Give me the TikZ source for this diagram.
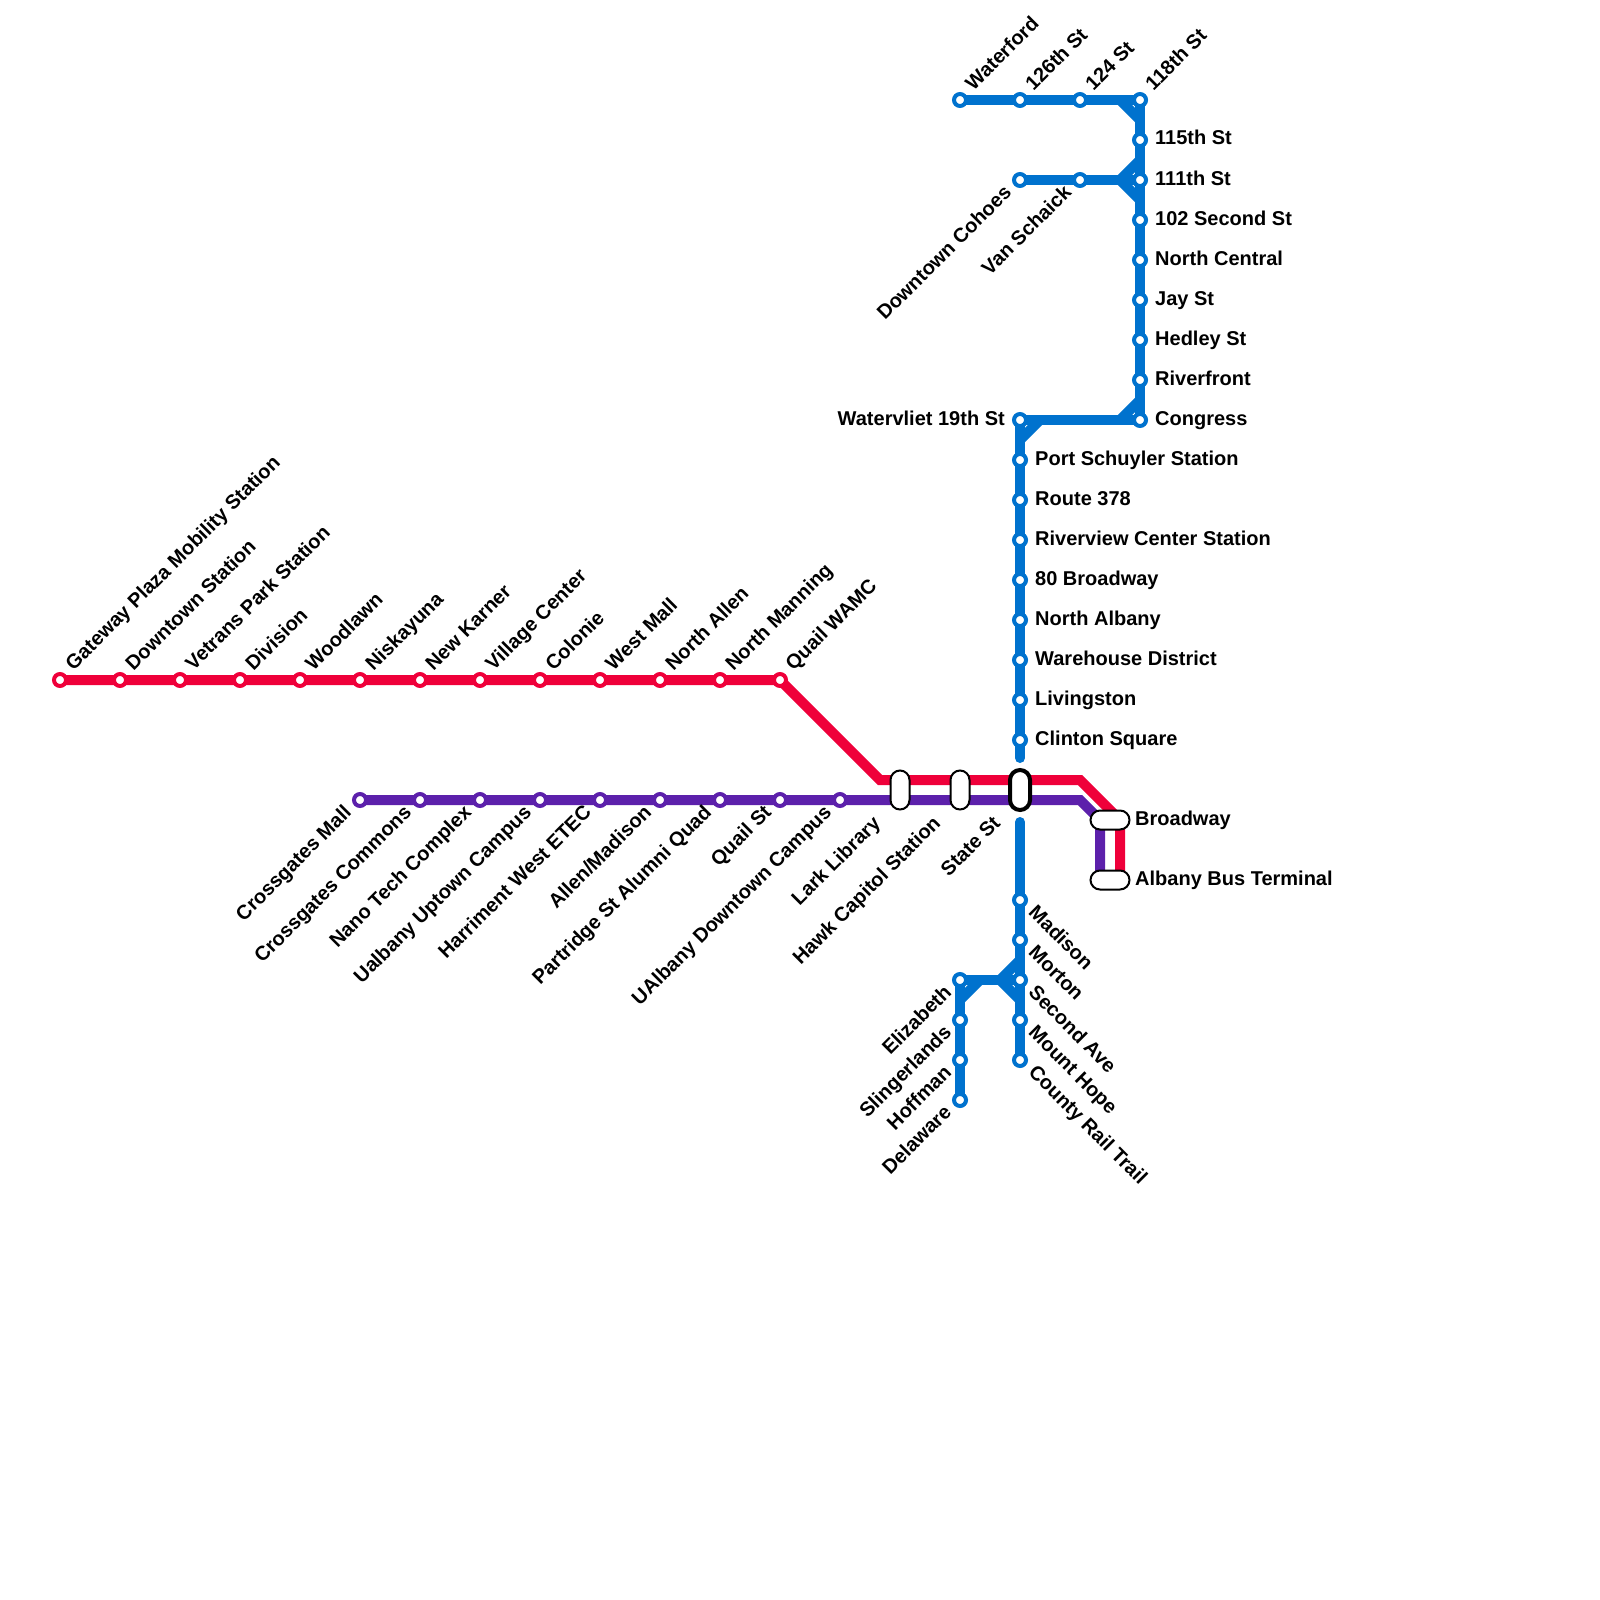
\documentclass[tikz,border=0pt]{standalone}
\usepackage{fontspec}
\setmainfont{Liberation Sans}
\definecolor{lineRed}{RGB}{239, 0, 58}
\definecolor{linePurple}{RGB}{92, 32, 171}
\definecolor{lineBlue}{RGB}{0, 114, 206}
\usetikzlibrary{positioning, backgrounds}

\begin{document}
\begin{tikzpicture}[
    x=1pt, y=-1pt,
    on grid, node distance=40pt and 60pt,
    stn/.style={circle, draw=lineBlue, fill=white, line width=4pt, minimum size=12pt, inner sep=0pt},
    stnred/.style={stn, draw=lineRed},
    stnpurple/.style={stn, draw=linePurple},
    pilltall/.style={rectangle, draw=black, fill=white, rounded corners=9.5pt, line width=2pt, minimum width=19pt, minimum height=39pt, inner sep=0pt},
    pillwide/.style={pilltall, minimum width=39pt, minimum height=19pt},
    pillmain/.style={pilltall, rounded corners=10pt, line width=4pt, minimum width=20pt, minimum height=40pt},
    txt/.style={font=\fontsize{20}{22}\selectfont\bfseries, text=black, inner sep=0pt, text height=14pt, text depth=4pt},
    labelright/.style={txt, anchor=west, xshift=15pt},
    labelleft/.style={txt, anchor=east, xshift=-15pt},
    labelup/.style={txt, anchor=west, xshift=10pt, yshift=12pt, rotate=45},
    labeldl/.style={txt, anchor=east, xshift=-11pt, yshift=-10pt, rotate=45},
    labeldr/.style={txt, anchor=west, xshift=11pt, yshift=-10pt, rotate=-45},
    pilldl/.style={txt, anchor=east, xshift=-22pt, yshift=-31pt, rotate=45},
    redline/.style={line width=10pt, lineRed},
    purpleline/.style={line width=10pt, linePurple},
    blueline/.style={line width=10pt, lineBlue},
  ]
    \useasboundingbox (0,0) rectangle (1600,1600);

    % Red stations
    \node[stnred] at (60,680) (gateway) {};
    \node[stnred, right=of gateway] (downtownst) {};
    \node[stnred, right=of downtownst] (vetrans) {};
    \node[stnred, right=of vetrans] (division) {};
    \node[stnred, right=of division] (woodlawn) {};
    \node[stnred, right=of woodlawn] (niskayuna) {};
    \node[stnred, right=of niskayuna] (newkarner) {};
    \node[stnred, right=of newkarner] (village) {};
    \node[stnred, right=of village] (colonie) {};
    \node[stnred, right=of colonie] (westmall) {};
    \node[stnred, right=of westmall] (northallen) {};
    \node[stnred, right=of northallen] (northmanning) {};
    \node[stnred, right=of northmanning] (quailwamc) {};

    % Purple stations
    \node[stnpurple] at (360,800) (crossmall) {};
    \node[stnpurple, right=of crossmall] (crosscommons) {};
    \node[stnpurple, right=of crosscommons] (nanotech) {};
    \node[stnpurple, right=of nanotech] (uptown) {};
    \node[stnpurple, right=of uptown] (harriment) {};
    \node[stnpurple, right=of harriment] (allen) {};
    \node[stnpurple, right=of allen] (partridge) {};
    \node[stnpurple, right=of partridge] (quailst) {};
    \node[stnpurple, right=of quailst] (ualbany) {};

    % Shared stops
    \node[pilltall] at (900,790) (lark) {};
    \node[pilltall, right=of lark] (hawk) {};
    \node[pillmain, right=of hawk] (state) {};
    \node[pillwide] at (1110,820) (broadway) {};
    \node[pillwide] at (1110,880) (busterminal) {};

    % Blue stations, top
    \node[stn] at (960,100) (waterford) {};
    \node[stn, right=of waterford] (st126) {};
    \node[stn, right=of st126] (st124) {};
    \node[stn, right=of st124] (st118) {};
    \node[stn, below=of st118] (st115) {};
    \node[stn, below=of st115] (st111) {};
    \node[stn, below=of st111] (second102) {};
    \node[stn, below=of second102] (northcentral) {};
    \node[stn, below=of northcentral] (jayst) {};
    \node[stn, below=of jayst] (hedley) {};
    \node[stn, below=of hedley] (riverfront) {};
    \node[stn, below=of riverfront] (congress) {};
    \node[stn] at (1020,180) (cohoes) {};
    \node[stn, right=of cohoes] (vanschaick) {};

    % Blue stations, middle
    \node[stn] at (1020,420) (watervliet) {};
    \node[stn, below=of watervliet] (schuyler) {};
    \node[stn, below=of schuyler] (route378) {};
    \node[stn, below=of route378] (riverview) {};
    \node[stn, below=of riverview] (broadway80) {};
    \node[stn, below=of broadway80] (northalbany) {};
    \node[stn, below=of northalbany] (warehouse) {};
    \node[stn, below=of warehouse] (livingston) {};
    \node[stn, below=of livingston] (clinton) {};

    % Blue stations, bottom
    \node[stn] at (1020,900) (madison) {};
    \node[stn, below=of madison] (morton) {};
    \node[stn, below=of morton] (secondave) {};
    \node[stn, below=of secondave] (mounthope) {};
    \node[stn, below=of mounthope] (railtrail) {};
    \node[stn, left=of secondave] (elizabeth) {};
    \node[stn, below=of elizabeth] (slingerlands) {};
    \node[stn, below=of slingerlands] (hoffman) {};
    \node[stn, below=of hoffman] (delaware) {};

    % Bends
    \coordinate (redbendA) at (880,780);
    \coordinate (redbendB) at (1080,780);
    \coordinate (redbendC) at (1120,820);
    \coordinate (redend) at (1120,880);
    \coordinate (purplebendA) at (1080,800);
    \coordinate (purplebendB) at (1100,820);
    \coordinate (purpleend) at (1100,880);
    \coordinate (blueclintonend) at (1020,758);
    \coordinate (bluestateend) at (1020,822);
    \coordinate (topbendA) at (1120,100);
    \coordinate (topbendB) at (1140,120);
    \coordinate (midbendA) at (1120,180);
    \coordinate (midbendB) at (1140,160);
    \coordinate (midbendC) at (1140,200);
    \coordinate (congbendA) at (1120,420);
    \coordinate (congbendB) at (1140,400);
    \coordinate (vlietbendA) at (1040,420);
    \coordinate (vlietbendB) at (1020,440);
    \coordinate (lowbendA) at (1000,980);
    \coordinate (lowbendB) at (1020,960);
    \coordinate (lowbendC) at (1020,1000);
    \coordinate (elizbendA) at (980,980);
    \coordinate (elizbendB) at (960,1000);

    % Lines
    \begin{scope}[on background layer]
      \draw[redline] (gateway.center) -- (quailwamc.center) -- (redbendA) -- (redbendB) -- (redbendC) -- (redend);
      \draw[purpleline] (crossmall.center) -- (ualbany.center) -- (purplebendA) -- (purplebendB) -- (purpleend);
      \draw[blueline] (waterford.center) -- (st118.center) -- (congress.center) -- (watervliet.center);
      \draw[blueline, line cap=round] (watervliet.center) -- (blueclintonend);
      \draw[blueline] (cohoes.center) -- (midbendA);
      \draw[blueline] (midbendA) -- (st111.center);
      \draw[blueline, line cap=round] (bluestateend) -- (railtrail.center);
      \draw[blueline] (elizabeth.center) -- (secondave.center);
      \draw[blueline] (elizabeth.center) -- (delaware.center);
      % Corner fillets
      \draw[blueline] (topbendA) -- (topbendB);
      \draw[blueline] (midbendA) -- (midbendB);
      \draw[blueline] (midbendA) -- (midbendC);
      \draw[blueline] (congbendA) -- (congbendB);
      \draw[blueline] (vlietbendA) -- (vlietbendB);
      \draw[blueline] (lowbendA) -- (lowbendB);
      \draw[blueline] (lowbendA) -- (lowbendC);
      \draw[blueline] (elizbendA) -- (elizbendB);
    \end{scope}

    % Red labels
    \node[labelup] at (gateway) (tgateway) {Gateway Plaza Mobility Station};
    \node[labelup] at (downtownst) (tdowntownst) {Downtown Station};
    \node[labelup] at (vetrans) (tvetrans) {Vetrans Park Station};
    \node[labelup] at (division) (tdivision) {Division};
    \node[labelup] at (woodlawn) (twoodlawn) {Woodlawn};
    \node[labelup] at (niskayuna) (tniskayuna) {Niskayuna};
    \node[labelup] at (newkarner) (tnewkarner) {New Karner};
    \node[labelup] at (village) (tvillage) {Village Center};
    \node[labelup] at (colonie) (tcolonie) {Colonie};
    \node[labelup] at (westmall) (twestmall) {West Mall};
    \node[labelup] at (northallen) (tnorthallen) {North Allen};
    \node[labelup] at (northmanning) (tnorthmanning) {North Manning};
    \node[labelup] at (quailwamc) (tquailwamc) {Quail WAMC};

    % Purple labels
    \node[labeldl] at (crossmall) (tcrossmall) {Crossgates Mall};
    \node[labeldl] at (crosscommons) (tcrosscommons) {Crossgates Commons};
    \node[labeldl] at (nanotech) (tnanotech) {Nano Tech Complex};
    \node[labeldl] at (uptown) (tuptown) {Ualbany Uptown Campus};
    \node[labeldl] at (harriment) (tharriment) {Harriment West ETEC};
    \node[labeldl] at (allen) (tallen) {Allen/Madison};
    \node[labeldl] at (partridge) (tpartridge) {Partridge St Alumni Quad};
    \node[labeldl] at (quailst) (tquailst) {Quail St};
    \node[labeldl] at (ualbany) (tualbany) {UAlbany Downtown Campus};
    \node[pilldl] at (lark) (tlark) {Lark Library};
    \node[pilldl] at (hawk) (thawk) {Hawk Capitol Station};
    \node[pilldl] at (state) (tstate) {State St};
    \node[labelright, xshift=10pt] at (broadway) (tbroadway) {Broadway};
    \node[labelright, xshift=10pt] at (busterminal) (tbusterminal) {Albany Bus Terminal};

    % Blue labels, top
    \node[labelup] at (waterford) (twaterford) {Waterford};
    \node[labelup] at (st126) (tst126) {126th St};
    \node[labelup] at (st124) (tst124) {124 St};
    \node[labelup] at (st118) (tst118) {118th St};
    \node[labelright] at (st115) (tst115) {115th St};
    \node[labelright] at (st111) (tst111) {111th St};
    \node[labelright] at (second102) (tsecond102) {102 Second St};
    \node[labelright] at (northcentral) (tnorthcentral) {North Central};
    \node[labelright] at (jayst) (tjayst) {Jay St};
    \node[labelright] at (hedley) (thedley) {Hedley St};
    \node[labelright] at (riverfront) (triverfront) {Riverfront};
    \node[labelright] at (congress) (tcongress) {Congress};
    \node[labeldl] at (cohoes) (tcohoes) {Downtown Cohoes};
    \node[labeldl] at (vanschaick) (tvanschaick) {Van Schaick};

    % Blue labels, middle
    \node[labelleft] at (watervliet) (twatervliet) {Watervliet 19th St};
    \node[labelright] at (schuyler) (tschuyler) {Port Schuyler Station};
    \node[labelright] at (route378) (troute378) {Route 378};
    \node[labelright] at (riverview) (triverview) {Riverview Center Station};
    \node[labelright] at (broadway80) (tbroadway80) {80 Broadway};
    \node[labelright] at (northalbany) (tnorthalbany) {North Albany};
    \node[labelright] at (warehouse) (twarehouse) {Warehouse District};
    \node[labelright] at (livingston) (tlivingston) {Livingston};
    \node[labelright] at (clinton) (tclinton) {Clinton Square};

    % Blue labels, bottom
    \node[labeldr] at (madison) (tmadison) {Madison};
    \node[labeldr] at (morton) (tmorton) {Morton};
    \node[labeldr] at (secondave) (tsecondave) {Second Ave};
    \node[labeldr] at (mounthope) (tmounthope) {Mount Hope};
    \node[labeldr] at (railtrail) (trailtrail) {County Rail Trail};
    \node[labeldl] at (elizabeth) (telizabeth) {Elizabeth};
    \node[labeldl] at (slingerlands) (tslingerlands) {Slingerlands};
    \node[labeldl] at (hoffman) (thoffman) {Hoffman};
    \node[labeldl] at (delaware) (tdelaware) {Delaware};
  \end{tikzpicture}
\end{document}
